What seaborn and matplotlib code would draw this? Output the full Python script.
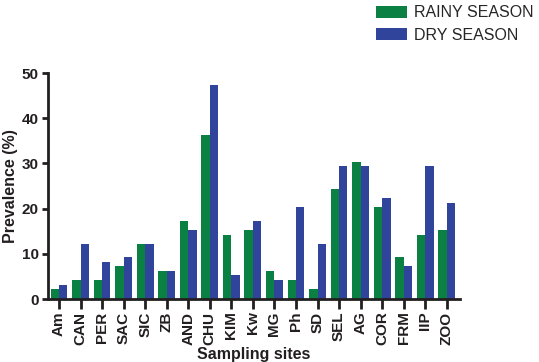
import pandas as pd
import seaborn as sns
import matplotlib
matplotlib.use('Agg')
import matplotlib.pyplot as plt
from matplotlib.patches import Patch

# prevalence (%) per sampling site
sites = ["Am", "CAN", "PER", "SAC", "SIC", "ZB", "AND", "CHU", "KIM", "Kw",
         "MG", "Ph", "SD", "SEL", "AG", "COR", "FRM", "IIP", "ZOO"]
rainy = [2.2, 4.3, 4.3, 7.4, 12.2, 6.2, 17.3, 36.4, 14.2, 15.3,
         6.3, 4.3, 2.2, 24.4, 30.4, 20.4, 9.3, 14.2, 15.3]
dry = [3.1, 12.1, 8.3, 9.4, 12.2, 6.2, 15.3, 47.4, 5.4, 17.3,
       4.3, 20.4, 12.2, 29.4, 29.4, 22.3, 7.2, 29.4, 21.2]
seasons = ["RAINY SEASON", "DRY SEASON"]
colors = ["#0a8043", "#31449b"]


def main():
    df = pd.DataFrame({
        'site': sites * 2,
        'prev': rainy + dry,
        'season': [seasons[0]] * len(sites) + [seasons[1]] * len(sites),
    })

    sns.set_style('ticks')
    plt.rcParams['font.family'] = ['Liberation Sans', 'DejaVu Sans']

    fig = plt.figure(figsize=(5.39, 3.62), dpi=100)
    ax = fig.add_axes([0.089, 0.174, 0.764, 0.624])
    sns.barplot(data=df, x='site', y='prev', hue='season', palette=colors,
                width=0.78, saturation=1, linewidth=0, ax=ax, legend=False)

    ax.set_xlim(-0.51, 18.6)
    ax.set_ylim(0, 50)
    ax.set_yticks(range(0, 51, 10))
    sns.despine(ax=ax)
    for s in ('left', 'bottom'):
        ax.spines[s].set_linewidth(2.0)
        ax.spines[s].set_color('#231f20')
    ax.tick_params(axis='x', length=7, width=2.0, color='#231f20', labelsize=11, pad=2)
    ax.tick_params(axis='y', length=4.5, width=2.0, color='#231f20', labelsize=11, pad=2)
    plt.setp(ax.get_xticklabels(), rotation=90, fontweight='bold', color='#231f20')
    plt.setp(ax.get_yticklabels(), fontweight='bold', color='#231f20')
    ax.set_xlabel("Sampling sites", fontsize=11.5, fontweight='bold', color='#231f20', labelpad=1)
    ax.set_ylabel("Prevalence (%)", fontsize=11.5, fontweight='bold', color='#231f20', labelpad=3)

    handles = [Patch(facecolor=c, edgecolor='none') for c in colors]
    fig.legend(handles, seasons, loc='upper left', bbox_to_anchor=(0.67, 1.025),
               frameon=False, fontsize=11.5, handlelength=2.0, handleheight=0.8,
               handletextpad=0.4, labelspacing=0.45)

    fig.savefig('out.png', dpi=100)


if __name__ == '__main__':
    main()
